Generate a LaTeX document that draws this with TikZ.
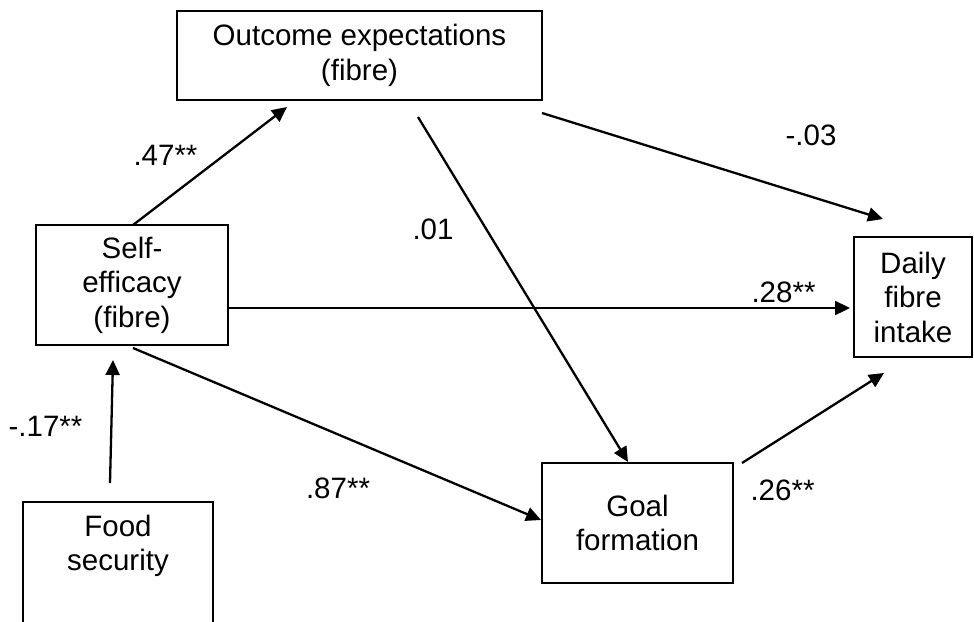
\documentclass[tikz,border=0pt]{standalone}
\usepackage{fontspec}
\setmainfont{Liberation Sans}
\usetikzlibrary{arrows.meta}
\begin{document}
\begin{tikzpicture}[x=1pt,y=-1pt,
  box/.style={draw,line width=1.6pt,align=center,inner sep=0pt,font=\fontsize{29.5}{34.5}\selectfont},
  lbl/.style={font=\fontsize{29.5}{34.5}\selectfont,inner sep=0pt},
  conn/.style={line width=2.3pt,-{Triangle[length=15pt,width=14pt]}}]
\useasboundingbox (0,0) rectangle (974,621);
\node[box,minimum width=365,minimum height=89] (oe) at (359.5,55.5) {Outcome expectations\\(fibre)};
\node[box,minimum width=192,minimum height=120] (se) at (132,285) {Self-\\efficacy\\(fibre)};
\node[box,minimum width=118,minimum height=120] (daily) at (913,297) {Daily\\fibre\\intake};
\node[box,minimum width=191,minimum height=120] (goal) at (637.5,523) {Goal\\formation};
\node[box,minimum width=190,minimum height=126] (food) at (118,565) {Food\\security\\\strut};
\coordinate (f1) at (110,483); \coordinate (f2) at (113,360);
\coordinate (s1) at (133,225); \coordinate (s2) at (287,107);
\coordinate (o1) at (542,113); \coordinate (o2) at (883,219);
\coordinate (o3) at (418,117); \coordinate (o4) at (628,462);
\coordinate (s3) at (228,308); \coordinate (s4) at (850,308);
\coordinate (s5) at (133,348); \coordinate (s6) at (541,520);
\coordinate (g1) at (742,463); \coordinate (g2) at (884,373);
\draw[conn] (f1) -- (f2);
\draw[conn] (s1) -- (s2);
\draw[conn] (o1) -- (o2);
\draw[conn] (o3) -- (o4);
\draw[conn] (s3) -- (s4);
\draw[conn] (s5) -- (s6);
\draw[conn] (g1) -- (g2);
\node[lbl] (l1) at (165.5,155) {.47**};
\node[lbl] (l2) at (811,135) {-.03};
\node[lbl] (l3) at (433,229) {.01};
\node[lbl] (l4) at (783.5,292) {.28**};
\node[lbl] (l5) at (45.5,426) {-.17**};
\node[lbl] (l6) at (338,488) {.87**};
\node[lbl] (l7) at (782.5,490) {.26**};
\end{tikzpicture}
\end{document}
